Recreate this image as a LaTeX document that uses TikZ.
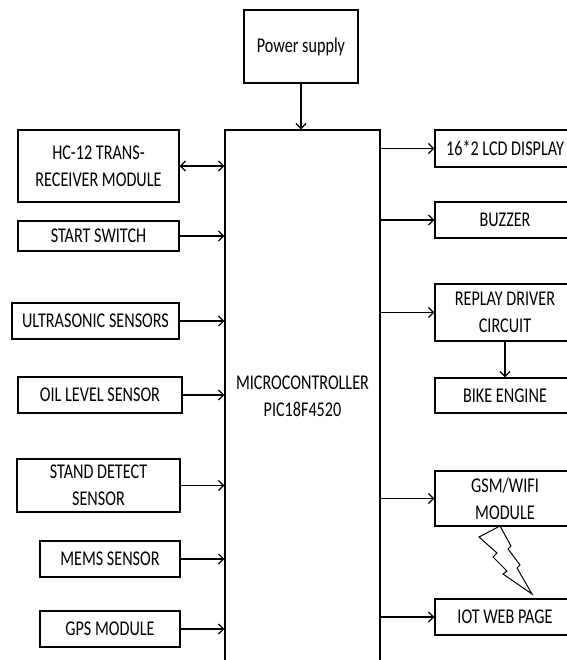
\documentclass[tikz,border=0pt]{standalone}
\usepackage{fontspec}
\setmainfont{Carlito}[FakeStretch=0.77]
\usetikzlibrary{arrows.meta}
\begin{document}
\begin{tikzpicture}[x=1pt,y=-1pt,
  box/.style={draw, line width=1.3pt, inner sep=0pt, align=center, font=\fontsize{21}{27}\selectfont},
  arr/.style={line width=1.3pt, -{Straight Barb[length=5pt,width=10pt]}},
  arrb/.style={line width=1.3pt, {Straight Barb[length=5pt,width=10pt]}-{Straight Barb[length=5pt,width=10pt]}},
]
\useasboundingbox (0,0) rectangle (566,660);

% top and centre
\node[box, minimum width=114pt, minimum height=73pt] (ps) at (301,46.5) {Power supply};
\node[box, minimum width=155pt, minimum height=532pt] (mc) at (302.5,396) {MICROCONTROLLER\\PIC18F4520};

% left column
\node[box, minimum width=161pt, minimum height=72pt] (hc) at (98.5,166) {HC-12 TRANS-\\RECEIVER MODULE};
\node[box, minimum width=161pt, minimum height=30pt] (ss) at (98.5,236) {START SWITCH};
\node[box, minimum width=167pt, minimum height=36pt] (us) at (95.5,321) {ULTRASONIC SENSORS};
\node[box, minimum width=164pt, minimum height=36pt] (ol) at (100,395) {OIL LEVEL SENSOR};
\node[box, minimum width=163pt, minimum height=53pt] (sd) at (98.5,485.5) {STAND DETECT\\SENSOR};
\node[box, minimum width=140pt, minimum height=36pt] (me) at (110,559) {MEMS SENSOR};
\node[box, minimum width=140pt, minimum height=36pt] (gp) at (110,629) {GPS MODULE};

% right column
\node[box, minimum width=140pt, minimum height=37pt] (lcd) at (505,148.5) {16*2 LCD DISPLAY};
\node[box, minimum width=140pt, minimum height=36pt] (bz) at (505,220) {BUZZER};
\node[box, minimum width=140pt, minimum height=57pt] (rd) at (505,312.5) {REPLAY DRIVER\\CIRCUIT};
\node[box, minimum width=140pt, minimum height=35pt] (be) at (505,395.5) {BIKE ENGINE};
\node[box, minimum width=140pt, minimum height=55pt] (gsm) at (505,498.5) {GSM/WIFI\\MODULE};
\node[box, minimum width=140pt, minimum height=36pt] (iot) at (505,617) {IOT WEB PAGE};

% connectors
\draw[arr] (ps.south) -- (ps.south |- mc.north);
\draw[arrb] (hc.east) -- (hc.east -| mc.west);
\foreach \n in {ss,us,ol,sd,me,gp}
  \draw[arr] (\n.east) -- (\n.east -| mc.west);
\foreach \n in {lcd,bz,rd,gsm,iot}
  \draw[arr] (\n.west -| mc.east) -- (\n.west);
\draw[arr] (rd.south) -- (be.north);

% lightning bolt
\draw[line width=1pt, line join=miter]
  (500,526) -- (479,537) -- (497,553) -- (493,557) -- (507,571) -- (503,574)
  -- (532,594) -- (517,568) -- (520,565) -- (508,549) -- (511,546) -- cycle;
\end{tikzpicture}
\end{document}
